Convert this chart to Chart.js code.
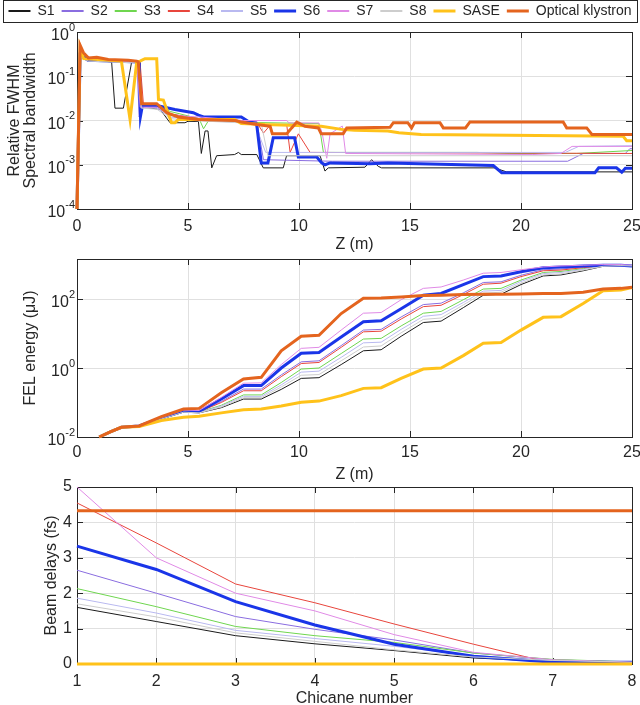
<!DOCTYPE html>
<html>
<head>
<meta charset="utf-8">
<script src="https://cdn.jsdelivr.net/npm/chart.js@4.4.1/dist/chart.umd.min.js"></script>
<style>
html, body { margin: 0; padding: 0; background: #fff; overflow: hidden; }
#wrap { position: relative; width: 640px; height: 705px; }
canvas { position: absolute; left: 0; }
</style>
</head>
<body>
<div id="wrap">
  <canvas id="c1" width="640" height="258" style="top:0px"></canvas>
  <canvas id="c2" width="640" height="226" style="top:258px"></canvas>
  <canvas id="c3" width="640" height="229" style="top:476px"></canvas>
</div>
<script>
// series names (legend order)
var names = ['S1', 'S2', 'S3', 'S4', 'S5', 'S6', 'S7', 'S8', 'SASE', 'Optical klystron'];

// --- top panel: relative FWHM spectral bandwidth vs z, [z (m), value] ---
var bwS1 = [[0,1e-4],[0.14,0.33],[0.5,0.24],[1.56,0.21],[1.71,0.019],[2.09,0.019],[2.46,0.21],[2.84,0.21],[2.91,0.02],[3.74,0.018],[4.19,0.0089],[4.86,0.0089],[5.0,0.0096],[5.47,0.0095],[5.6,0.0018],[5.77,0.0058],[5.9,0.0058],[6.07,0.00085],[6.29,0.0016],[7.1,0.0017],[7.27,0.0019],[7.4,0.0017],[8.1,0.0017],[8.39,0.00085],[9.29,0.00085],[9.44,0.0016],[10.95,0.0016],[11.17,0.00072],[11.32,0.00085],[12.97,0.00088],[13.27,0.0013],[13.57,0.00092],[13.72,0.00085],[18.8,0.00085],[19.35,0.00069],[25,0.00069]];
var bwS2 = [[0,1e-4],[0.14,0.3],[0.5,0.24],[1.5,0.22],[2.7,0.21],[2.8,0.012],[2.9,0.022],[3.6,0.021],[4.2,0.014],[5.5,0.011],[7.5,0.0098],[8.1,0.0095],[8.4,0.0013],[11.5,0.0012],[22.1,0.0012],[22.8,0.0018],[24.7,0.0018],[24.9,0.0023],[25,0.0023]];
var bwS3 = [[0,1e-4],[0.14,0.33],[0.5,0.25],[1.5,0.22],[2.8,0.21],[2.9,0.022],[3.6,0.022],[4.2,0.016],[5.5,0.011],[5.7,0.0065],[5.9,0.0095],[7.5,0.0095],[8.1,0.009],[10.9,0.0085],[11.1,0.0019],[18.0,0.0019],[19.5,0.0018],[22.5,0.0018],[25,0.0021]];
var bwS4 = [[0,1e-4],[0.14,0.35],[0.5,0.27],[1.5,0.23],[2.84,0.21],[2.99,0.024],[3.6,0.023],[4.2,0.014],[5.5,0.011],[7.5,0.0095],[8.1,0.009],[8.4,0.0052],[8.7,0.0078],[9.45,0.0078],[9.6,0.0019],[9.97,0.005],[10.5,0.0019],[25,0.0018]];
var bwS5 = [[0,1e-4],[0.14,0.3],[0.5,0.23],[1.5,0.22],[2.8,0.21],[2.9,0.02],[3.6,0.019],[4.2,0.012],[5.5,0.01],[7.5,0.009],[8.0,0.0088],[8.5,0.0019],[22.0,0.0019],[22.6,0.0026],[25,0.0027]];
var bwS6 = [[0,1e-4],[0.14,0.3],[0.5,0.23],[1.5,0.22],[2.8,0.21],[2.86,0.0125],[2.95,0.022],[3.74,0.021],[4.41,0.0177],[4.86,0.0162],[5.24,0.015],[5.47,0.0132],[5.7,0.012],[7.4,0.012],[7.72,0.0095],[8.09,0.0085],[8.3,0.0011],[8.6,0.0011],[8.84,0.0041],[9.8,0.0041],[9.97,0.0015],[10.8,0.0015],[11.02,0.0011],[11.17,0.001],[11.4,0.0011],[13.2,0.00105],[14.0,0.0011],[18.75,0.00096],[19.13,0.00066],[23.33,0.00066],[23.5,0.00085],[24.3,0.00085],[24.54,0.00068],[24.7,0.00083],[25,0.00083]];
var bwS7 = [[0,1e-4],[0.14,0.38],[0.5,0.26],[1.5,0.22],[2.7,0.21],[2.85,0.02],[3.6,0.02],[4.2,0.013],[5.5,0.012],[7.5,0.01],[9.45,0.01],[9.55,0.0088],[10.9,0.0088],[11.05,0.005],[11.25,0.0014],[11.4,0.005],[11.95,0.0075],[12.1,0.0018],[20.5,0.0017],[21.8,0.0018],[22.3,0.0026],[25,0.0026]];
var bwS8 = [[0,1e-4],[0.14,0.28],[0.5,0.22],[1.5,0.21],[2.8,0.2],[2.9,0.019],[3.6,0.018],[4.2,0.011],[5.5,0.0098],[7.5,0.0088],[8.3,0.0085],[8.6,0.0016],[25,0.0016]];
var bwSASE = [[0,1e-4],[0.14,0.45],[0.3,0.25],[2.0,0.22],[2.39,0.0105],[2.69,0.21],[2.84,0.22],[3.06,0.25],[3.59,0.25],[3.67,0.03],[3.89,0.029],[4.26,0.0089],[4.41,0.0089],[4.56,0.0105],[7.1,0.0105],[7.4,0.0085],[8.3,0.0082],[8.47,0.0081],[11.0,0.0074],[11.92,0.0063],[12.5,0.006],[14.0,0.0058],[14.5,0.0053],[15.5,0.0048],[18.15,0.0047],[24.6,0.0044],[24.76,0.0035],[25,0.0035]];
var bwOK = [[0,1e-4],[0.14,0.5],[0.29,0.34],[0.51,0.26],[0.89,0.27],[1.41,0.24],[2.31,0.23],[2.69,0.22],[2.76,0.21],[2.91,0.024],[3.59,0.024],[4.04,0.015],[4.56,0.012],[5.47,0.0105],[7.12,0.01],[7.42,0.0092],[8.1,0.0081],[8.7,0.0074],[8.8,0.005],[9.45,0.005],[9.67,0.0068],[9.9,0.0092],[10.27,0.0074],[10.87,0.0068],[11.0,0.005],[11.99,0.005],[12.15,0.0068],[14.1,0.007],[14.25,0.0089],[14.9,0.0089],[15.07,0.0068],[15.2,0.0089],[16.35,0.0089],[16.5,0.0068],[17.5,0.0068],[17.7,0.0093],[21.9,0.0093],[22.06,0.0068],[22.96,0.0068],[23.2,0.0048],[25,0.0048]];

// --- middle panel: FEL energy (uJ) sampled at these z (m) ---
var zE = [1.0,1.5,2.0,2.8,3.8,4.8,5.5,6.5,7.5,8.3,9.2,10.1,10.9,11.9,12.9,13.7,14.6,15.6,16.4,17.4,18.3,19.1,20.0,21.0,21.8,22.8,23.7,24.5,25.0];
var enS1 = [0.01,0.0141,0.0191,0.0209,0.0331,0.0525,0.0501,0.0708,0.126,0.126,0.24,0.501,0.525,1.26,3.16,3.39,8.32,20.9,22.9,56.2,129,138,263,468,501,661,891,933,933];
var enS2 = [0.01,0.0141,0.0191,0.0209,0.0347,0.0562,0.0537,0.107,0.245,0.245,0.631,1.51,1.62,4.47,12.6,13.2,30.2,69.2,75.9,151,302,316,490,708,741,851,933,955,933];
var enS3 = [0.01,0.0141,0.0191,0.0209,0.0339,0.055,0.0525,0.0832,0.166,0.166,0.38,0.933,1.0,2.63,6.92,7.24,16.6,38.9,43.7,95.5,195,204,355,589,631,759,912,933,912];
var enS4 = [0.01,0.0141,0.0191,0.0209,0.0347,0.0562,0.0537,0.1,0.219,0.219,0.562,1.35,1.45,3.98,11.2,11.7,26.3,60.3,66.1,135,269,288,447,661,692,813,912,933,912];
var enS5 = [0.01,0.0141,0.0191,0.0209,0.0339,0.0537,0.0513,0.0794,0.151,0.151,0.324,0.759,0.813,2.04,5.37,5.62,13.2,31.6,35.5,79.4,170,178,324,550,589,724,912,933,912];
var enS6 = [0.01,0.0141,0.0191,0.0209,0.0355,0.0575,0.055,0.126,0.309,0.309,1.0,2.69,2.82,7.94,21.9,23.4,52.5,129,145,263,447,468,617,813,851,912,955,955,912];
var enS7 = [0.01,0.0141,0.0191,0.0209,0.0363,0.0603,0.0589,0.141,0.363,0.372,1.26,3.72,3.98,12.6,38.9,40.7,95.5,204,224,355,562,589,708,851,912,955,1000,1000,955];
var enS8 = [0.01,0.0141,0.0191,0.0209,0.0331,0.0525,0.0501,0.0741,0.138,0.138,0.282,0.617,0.646,1.62,4.07,4.37,10.5,25.7,28.2,67.6,148,158,288,501,537,692,891,933,912];
var enSASE = [0.01,0.0141,0.0191,0.02,0.0302,0.0372,0.0398,0.0501,0.0617,0.0646,0.0794,0.102,0.11,0.158,0.257,0.269,0.501,0.933,1.0,2.29,5.25,5.5,12.6,29.5,30.9,74.1,174,182,214];
var enOK = [0.01,0.0141,0.0191,0.0209,0.0389,0.0646,0.0676,0.191,0.479,0.537,3.16,8.32,8.91,38.0,105,107,115,126,129,135,138,138,141,145,145,158,195,204,219];

// --- bottom panel: beam delays (fs) per chicane ---
var chicane = [1, 2, 3, 4, 5, 6, 7, 8];
var dlS1 = [1.6, 1.2, 0.8, 0.57, 0.38, 0.17, 0.07, 0.04];
var dlS2 = [2.65, 2.0, 1.34, 0.98, 0.68, 0.31, 0.12, 0.05];
var dlS3 = [2.13, 1.62, 1.06, 0.8, 0.61, 0.31, 0.13, 0.06];
var dlS4 = [4.55, 3.42, 2.26, 1.73, 1.13, 0.56, 0.02, 0.05];
var dlS5 = [1.86, 1.44, 0.95, 0.72, 0.5, 0.24, 0.1, 0.05];
var dlS6 = [3.33, 2.67, 1.76, 1.1, 0.56, 0.22, 0.05, 0.05];
var dlS7 = [5.0, 3.0, 2.0, 1.5, 0.83, 0.33, 0.12, 0.05];
var dlS8 = [1.7, 1.33, 0.88, 0.64, 0.4, 0.2, 0.1, 0.05];
var dlSASE = [0, 0, 0, 0, 0, 0, 0, 0];
var dlOK = [4.33, 4.33, 4.33, 4.33, 4.33, 4.33, 4.33, 4.33];

// tick values
var zTicks = [0, 5, 10, 15, 20, 25];
var bwTicks = [1e-4, 1e-3, 1e-2, 1e-1, 1];
var enTicks = [1e-2, 1, 100];
var chTicks = [1, 2, 3, 4, 5, 6, 7, 8];
var dlTicks = [0, 1, 2, 3, 4, 5];

// styles
var colors = ['#1a1a1a', '#8a6de0', '#6fd64f', '#e8453c', '#b9b9f0', '#1a35e8', '#e08ae6', '#cdcdcd', '#ffc21a', '#e4641e'];
var widths = [1, 1, 1, 1, 1, 3, 1, 1, 3, 3];
var fontFam = '"Liberation Sans", Arial, Helvetica, sans-serif';
var ink = '#262626';
var gridCol = '#e0e0e0';

Chart.defaults.font.family = fontFam;
Chart.defaults.color = ink;

function lineSets(series, toData) {
  return series.map(function (s, i) {
    return {
      label: names[i],
      data: toData(s),
      borderColor: colors[i],
      backgroundColor: colors[i],
      borderWidth: widths[i],
      pointRadius: 0,
      fill: false,
      tension: 0,
      clip: 4,
      order: 10 - i // later series drawn on top, like matlab
    };
  });
}
function fromPairs(p) { return p.map(function (q) { return {x: q[0], y: q[1]}; }); }
function onGrid(xs) { return function (ys) { return ys.map(function (y, k) { return {x: xs[k], y: y}; }); }; }
function setTicks(list) { return function (s) { s.ticks = list.map(function (v) { return {value: v}; }); }; }

function xAxis(min, max, list, title, h, pad, titlePad) {
  return {
    type: 'linear', position: 'bottom', min: min, max: max,
    afterBuildTicks: setTicks(list),
    grid: {color: gridCol, drawTicks: false},
    border: {display: false},
    ticks: {padding: pad, maxRotation: 0, autoSkip: false, font: {size: 16}, color: ink},
    title: {display: true, text: title, color: ink, font: {size: 16, lineHeight: 0.75}, padding: {top: 0, bottom: titlePad}},
    afterFit: function (s) {
      s.height = h;
      // let the end labels overhang instead of shrinking the plot
      s.paddingLeft = 0;
      s.paddingRight = 0;
    }
  };
}
function yAxis(type, min, max, list, title, titlePad, showLabels) {
  return {
    type: type, position: 'left', min: min, max: max,
    afterBuildTicks: setTicks(list),
    grid: {color: gridCol, drawTicks: false},
    border: {display: false},
    ticks: {display: showLabels, padding: 5, font: {size: 16}, color: ink},
    title: {display: true, text: title, color: ink, font: {size: 16, lineHeight: 1}, padding: {top: titlePad, bottom: 0}},
    afterFit: function (s) { s.width = 77; s.paddingTop = 0; s.paddingBottom = 0; }
  };
}
// empty axis, only used to reserve space
function spacer(pos, size) {
  return {
    type: 'linear', position: pos, display: true, min: 0, max: 1,
    grid: {display: false, drawTicks: false}, border: {display: false}, ticks: {display: false},
    afterFit: function (s) { if (pos === 'top') s.height = size; else s.width = size; }
  };
}

// box round the axes with inward ticks
var axesFrame = {
  id: 'axesFrame',
  beforeDatasetsDraw: function (chart) {
    var a = chart.chartArea, ctx = chart.ctx, L = 6;
    var sx = chart.scales.x, sy = chart.scales.y;
    ctx.save();
    ctx.strokeStyle = ink;
    ctx.lineWidth = 1;
    ctx.beginPath();
    sx.ticks.forEach(function (t) {
      var x = Math.round(sx.getPixelForValue(t.value)) + 0.5;
      ctx.moveTo(x, a.bottom); ctx.lineTo(x, a.bottom - L);
      ctx.moveTo(x, a.top); ctx.lineTo(x, a.top + L);
    });
    sy.ticks.forEach(function (t) {
      var y = Math.round(sy.getPixelForValue(t.value)) + 0.5;
      ctx.moveTo(a.left, y); ctx.lineTo(a.left + L, y);
      ctx.moveTo(a.right, y); ctx.lineTo(a.right - L, y);
    });
    ctx.stroke();
    ctx.strokeRect(Math.round(a.left) + 0.5, Math.round(a.top) + 0.5, Math.round(a.right - a.left), Math.round(a.bottom - a.top));
    ctx.restore();
  }
};

// 10^n labels on the log axes
var powerLabels = {
  id: 'powerLabels',
  afterDraw: function (chart) {
    var sc = chart.scales.y;
    if (sc.type !== 'logarithmic') return;
    var ctx = chart.ctx, right = chart.chartArea.left - 2;
    ctx.save();
    ctx.fillStyle = ink;
    ctx.textAlign = 'right';
    ctx.textBaseline = 'alphabetic';
    sc.ticks.forEach(function (t) {
      var y = sc.getPixelForValue(t.value);
      var p = String(Math.round(Math.log10(t.value)));
      ctx.font = '11px ' + fontFam;
      var w = ctx.measureText(p).width;
      ctx.fillText(p, right, y - 1.5);
      ctx.font = '16px ' + fontFam;
      ctx.fillText('10', right - w, y + 8);
    });
    ctx.restore();
  }
};

var legendFrame = {
  id: 'legendFrame',
  afterDraw: function (chart) {
    var hb = chart.legend && chart.legend.legendHitBoxes;
    if (!hb || !hb.length) return;
    var last = hb[hb.length - 1];
    var x0 = Math.round(hb[0].left) - 5, x1 = Math.round(last.left + last.width) + 5;
    var ctx = chart.ctx;
    ctx.save();
    ctx.strokeStyle = ink;
    ctx.lineWidth = 1;
    ctx.strokeRect(x0 + 0.5, 0.5, x1 - x0, 22);
    ctx.restore();
  }
};

var common = {responsive: false, animation: false, events: []};

new Chart(document.getElementById('c1'), {
  type: 'line',
  data: {datasets: lineSets([bwS1, bwS2, bwS3, bwS4, bwS5, bwS6, bwS7, bwS8, bwSASE, bwOK], fromPairs)},
  options: Object.assign({}, common, {
    layout: {padding: {top: -3, left: 0, right: 0, bottom: 0}},
    plugins: {
      tooltip: {enabled: false},
      legend: {
        display: true, position: 'top', align: 'center',
        labels: {
          usePointStyle: true, pointStyle: 'line', pointStyleWidth: 22,
          padding: 7, color: ink, font: {size: 14},
          sort: function (a, b) { return a.datasetIndex - b.datasetIndex; },
          generateLabels: function (chart) {
            return Chart.defaults.plugins.legend.labels.generateLabels(chart).map(function (it) {
              it.lineWidth = Math.max(it.lineWidth, 2);
              return it;
            });
          }
        }
      }
    },
    scales: {
      x: xAxis(0, 25, zTicks, 'Z (m)', 49, 8, 7),
      y: yAxis('logarithmic', 1e-4, 1, bwTicks, ['Relative FWHM', 'Spectral bandwidth'], 7, false),
      xTop: spacer('top', 4),
      yRight: spacer('right', 8)
    }
  }),
  plugins: [axesFrame, powerLabels, legendFrame]
});

new Chart(document.getElementById('c2'), {
  type: 'line',
  data: {datasets: lineSets([enS1, enS2, enS3, enS4, enS5, enS6, enS7, enS8, enSASE, enOK], onGrid(zE))},
  options: Object.assign({}, common, {
    layout: {padding: {top: 1, left: 0, right: 8, bottom: 0}},
    plugins: {tooltip: {enabled: false}, legend: {display: false}},
    scales: {
      x: xAxis(0, 25, zTicks, 'Z (m)', 47, 6, 3),
      y: yAxis('logarithmic', 0.01, 1450, enTicks, 'FEL energy (\u03bcJ)', 23, false)
    }
  }),
  plugins: [axesFrame, powerLabels]
});

new Chart(document.getElementById('c3'), {
  type: 'line',
  data: {datasets: lineSets([dlS1, dlS2, dlS3, dlS4, dlS5, dlS6, dlS7, dlS8, dlSASE, dlOK], onGrid(chicane))},
  options: Object.assign({}, common, {
    layout: {padding: {top: 11, left: 0, right: 8, bottom: 0}},
    plugins: {tooltip: {enabled: false}, legend: {display: false}},
    scales: {
      x: xAxis(1, 8, chTicks, 'Chicane number', 41, 8, 0),
      y: yAxis('linear', 0, 5, dlTicks, 'Beam delays (fs)', 44, true)
    }
  }),
  plugins: [axesFrame]
});
</script>
</body>
</html>
